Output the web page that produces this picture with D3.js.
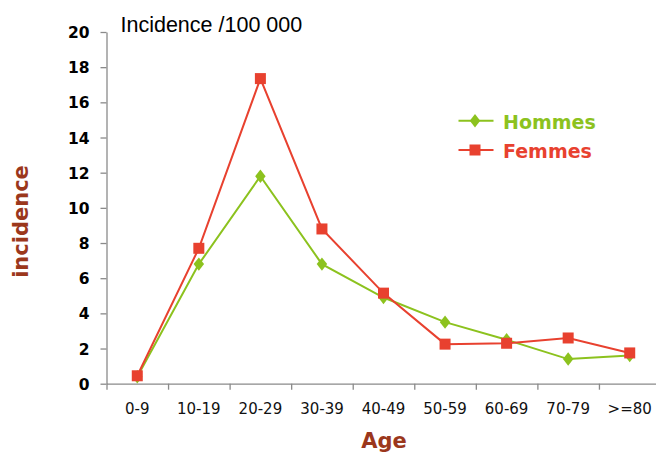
<!DOCTYPE html>
<html>
<head>
<meta charset="utf-8">
<script src="https://cdn.jsdelivr.net/npm/d3@7"></script>
<style>
  html, body { margin: 0; padding: 0; background: #fff; }
  svg { display: block; }
</style>
</head>
<body>
<svg id="chart" width="656" height="456"></svg>
<script>
const categories = ["0-9", "10-19", "20-29", "30-39", "40-49", "50-59", "60-69", "70-79", ">=80"];
const hommes = [0.4, 6.8, 11.8, 6.8, 4.9, 3.5, 2.5, 1.4, 1.6];
const femmes = [0.45, 7.7, 17.35, 8.8, 5.15, 2.25, 2.3, 2.6, 1.75];
const yTicks = [0, 2, 4, 6, 8, 10, 12, 14, 16, 18, 20];
const seriesNames = ["Hommes", "Femmes"];

(function () {
const GREEN = "#8cc21e", RED = "#e8412f", BROWN = "#9b371c", AXIS = "#8a8a8a";

const svg = d3.select("#chart");
const mLeft = 106.5, mRight = 660.5, mTop = 32, mBottom = 383.7;

const x = d3.scaleBand().domain(categories).range([mLeft, mRight]).padding(0);
const xIdx = d3.scaleLinear().domain([0, categories.length]).range([mLeft, mRight]);
const y = d3.scaleLinear().domain([0, 20]).range([mBottom, mTop]);

// Y axis
const gy = svg.append("g").attr("transform", `translate(${mLeft},0)`)
  .call(d3.axisLeft(y).tickValues(yTicks).tickSize(6).tickPadding(11).tickSizeOuter(0));
gy.select(".domain").attr("stroke", AXIS).attr("stroke-width", 1.3);
gy.selectAll(".tick line").attr("stroke", AXIS).attr("stroke-width", 1.3);
gy.selectAll(".tick text").attr("font-family", "DejaVu Sans, Verdana, sans-serif")
  .attr("font-weight", "bold").attr("font-size", 15.5).attr("fill", "#000").attr("dy", "0.36em");

// X axis tick marks at band boundaries
const gxt = svg.append("g").attr("transform", `translate(0,${mBottom})`)
  .call(d3.axisBottom(xIdx).tickValues(d3.range(0, categories.length)).tickSize(6).tickFormat("").tickSizeOuter(0));
gxt.select(".domain").attr("stroke", AXIS).attr("stroke-width", 1.3);
gxt.selectAll(".tick line").attr("stroke", AXIS).attr("stroke-width", 1.3);

// X axis labels
const gx = svg.append("g").attr("transform", `translate(0,${mBottom})`)
  .call(d3.axisBottom(x).tickSize(0).tickPadding(20));
gx.select(".domain").remove();
gx.selectAll(".tick text").attr("font-family", "DejaVu Sans, Verdana, sans-serif")
  .attr("font-size", 15).attr("fill", "#111").attr("dy", "0.71em");

// Lines
const line = d3.line().x((d, i) => x(categories[i]) + x.bandwidth() / 2).y(d => y(d));
const diamondPath = d3.symbol().type(d3.symbolDiamond).size(52)();

function drawSeries(vals, color, kind) {
  svg.append("path").datum(vals).attr("d", line).attr("fill", "none")
    .attr("stroke", color).attr("stroke-width", 2);
  const g = svg.append("g");
  vals.forEach((v, i) => {
    const cx = x(categories[i]) + x.bandwidth() / 2, cy = y(v);
    if (kind === "square") {
      g.append("rect").attr("x", cx - 5.5).attr("y", cy - 5.5).attr("width", 11).attr("height", 11).attr("fill", color);
    } else {
      g.append("path").attr("d", diamondPath).attr("transform", `translate(${cx},${cy}) scale(1.35,1)`).attr("fill", color);
    }
  });
}
drawSeries(hommes, GREEN, "diamond");
drawSeries(femmes, RED, "square");

// Legend
const legend = [
  { name: seriesNames[0], color: GREEN, kind: "diamond", ly: 120.7 },
  { name: seriesNames[1], color: RED, kind: "square", ly: 150 }
];
legend.forEach(l => {
  svg.append("line").attr("x1", 458.5).attr("x2", 493.5).attr("y1", l.ly).attr("y2", l.ly)
    .attr("stroke", l.color).attr("stroke-width", 2);
  if (l.kind === "square") {
    svg.append("rect").attr("x", 475 - 5.5).attr("y", l.ly - 5.5).attr("width", 11).attr("height", 11).attr("fill", l.color);
  } else {
    svg.append("path").attr("d", diamondPath).attr("transform", `translate(475,${l.ly}) scale(1.35,1)`).attr("fill", l.color);
  }
  svg.append("text").attr("x", 503).attr("y", l.ly + 8).text(l.name)
    .attr("font-family", "DejaVu Sans, Verdana, sans-serif").attr("font-weight", "bold")
    .attr("font-size", 19).attr("fill", l.color);
});

// Title
svg.append("text").attr("x", 120.5).attr("y", 31.5).text("Incidence /100 000")
  .attr("font-family", "Liberation Sans, Arial, sans-serif").attr("font-size", 21.5).attr("fill", "#000");

// Axis titles
svg.append("text").attr("transform", "translate(28,221.5) rotate(-90)").attr("text-anchor", "middle")
  .text("incidence").attr("font-family", "DejaVu Sans, Verdana, sans-serif").attr("font-weight", "bold")
  .attr("font-size", 21).attr("fill", BROWN);
svg.append("text").attr("x", 384).attr("y", 447.5).attr("text-anchor", "middle")
  .text("Age").attr("font-family", "DejaVu Sans, Verdana, sans-serif").attr("font-weight", "bold")
  .attr("font-size", 21).attr("fill", BROWN);
})();
</script>
</body>
</html>
